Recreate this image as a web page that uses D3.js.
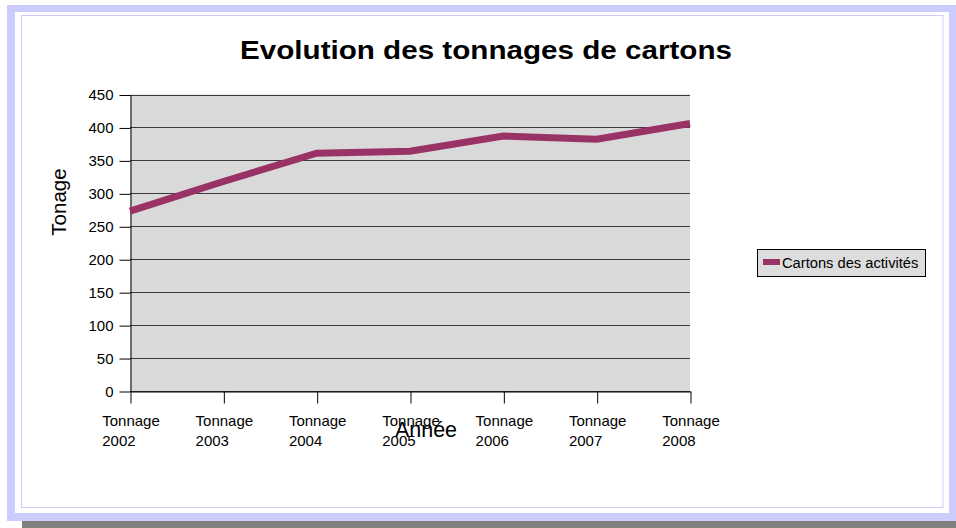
<!DOCTYPE html>
<html>
<head>
<meta charset="utf-8">
<script src="https://cdn.jsdelivr.net/npm/d3@7"></script>
<style>
  body { margin: 0; background: #fff; }
  text { font-family: "Liberation Sans", Arial, sans-serif; fill: #000; }
</style>
</head>
<body>
<div id="chart"></div>
<script>
// Chart data
var categories = ["Tonnage 2002", "Tonnage 2003", "Tonnage 2004", "Tonnage 2005", "Tonnage 2006", "Tonnage 2007", "Tonnage 2008"];
var values = [273, 318, 361, 364, 387, 382, 406];
var yTicks = [0, 50, 100, 150, 200, 250, 300, 350, 400, 450];
var seriesName = "Cartons des activités";

// Set up chart
var svgWidth = 956;
var svgHeight = 528;

var plot = { left: 130, right: 690, top: 94.5, bottom: 391 };

var svg = d3.select("#chart")
  .append("svg")
  .attr("width", svgWidth)
  .attr("height", svgHeight);

// Page frame (shadow, lavender border, thin inner line)
svg.append("rect").attr("x", 22).attr("y", 521).attr("width", 934).attr("height", 7).attr("fill", "#808080");
svg.append("rect").attr("x", 7).attr("y", 5).attr("width", 949).attr("height", 516).attr("fill", "#ccccff");
svg.append("rect").attr("x", 15).attr("y", 12).attr("width", 934).attr("height", 501).attr("fill", "#ffffff");
svg.append("rect").attr("x", 21.5).attr("y", 15.5).attr("width", 921.5).attr("height", 492)
  .attr("fill", "none").attr("stroke", "#ccccff").attr("stroke-width", 1);

// Scales
var x = d3.scalePoint()
  .domain(categories)
  .range([plot.left, plot.right]);

var y = d3.scaleLinear()
  .domain([0, 450])
  .range([plot.bottom, plot.top]);

// Plot background
svg.append("rect")
  .attr("x", plot.left)
  .attr("y", plot.top)
  .attr("width", plot.right - plot.left)
  .attr("height", plot.bottom - plot.top)
  .attr("fill", "#d9d9d9");

// Gridlines
svg.append("g")
  .selectAll("line")
  .data(yTicks)
  .enter()
  .append("line")
  .attr("x1", plot.left)
  .attr("x2", plot.right)
  .attr("y1", d => Math.round(y(d)) + 0.5)
  .attr("y2", d => Math.round(y(d)) + 0.5)
  .attr("stroke", "#3a3a3a")
  .attr("stroke-width", 1);

// Y axis
var yAxis = svg.append("g")
  .attr("transform", `translate(${plot.left + 0.5}, 0.5)`)
  .call(d3.axisLeft(y).tickValues(yTicks).tickSize(11).tickSizeOuter(0).tickPadding(6));
yAxis.select(".domain").attr("stroke", "#000");
yAxis.selectAll(".tick line").attr("stroke", "#000");
yAxis.selectAll(".tick text")
  .style("font-family", "Liberation Sans, Arial, sans-serif")
  .style("font-size", "15px")
  .attr("fill", "#000");

// X axis
var xAxis = svg.append("g")
  .attr("transform", `translate(0.5, ${Math.round(plot.bottom) + 0.5})`)
  .call(d3.axisBottom(x).tickSize(12).tickSizeOuter(0));
xAxis.select(".domain").attr("stroke", "#000");
xAxis.selectAll(".tick line").attr("stroke", "#000");

// Two-line tick labels, left aligned inside a block centred on the tick
xAxis.selectAll(".tick text").each(function(d) {
  var parts = d.split(" ");
  var t = d3.select(this)
    .text(null)
    .attr("y", 0)
    .attr("dy", null)
    .attr("fill", "#000")
    .style("font-family", "Liberation Sans, Arial, sans-serif")
    .style("font-size", "15px")
    .attr("text-anchor", "start");
  var first = t.append("tspan").attr("y", 34).text(parts[0]);
  var w = first.node().getComputedTextLength();
  first.attr("x", -w / 2);
  t.append("tspan").attr("x", -w / 2).attr("y", 54).text(parts[1]);
});

// Line
var line = d3.line()
  .x((d, i) => x(categories[i]))
  .y(d => y(d));

svg.append("path")
  .datum(values)
  .attr("d", line)
  .attr("fill", "none")
  .attr("stroke", "#993366")
  .attr("stroke-width", 7)
  .attr("stroke-linejoin", "miter");

// Title
svg.append("text")
  .attr("x", 486)
  .attr("y", 59)
  .attr("text-anchor", "middle")
  .attr("textLength", 492)
  .attr("lengthAdjust", "spacingAndGlyphs")
  .style("font-size", "25px")
  .style("font-weight", "bold")
  .text("Evolution des tonnages de cartons");

// Axis labels
svg.append("text")
  .attr("transform", "translate(66, 202) rotate(-90)")
  .attr("text-anchor", "middle")
  .style("font-size", "20.5px")
  .text("Tonage");

svg.append("text")
  .attr("x", 426)
  .attr("y", 437)
  .attr("text-anchor", "middle")
  .style("font-size", "21.5px")
  .text("Année");

// Legend
var legend = svg.append("g");
legend.append("rect")
  .attr("x", 757.5).attr("y", 249.5)
  .attr("width", 168).attr("height", 27)
  .attr("fill", "#dddddd").attr("stroke", "#000");
legend.append("rect")
  .attr("x", 763).attr("y", 259)
  .attr("width", 17).attr("height", 6)
  .attr("fill", "#993366");
legend.append("text")
  .attr("x", 782).attr("y", 267.5)
  .style("font-size", "14.7px")
  .text(seriesName);
</script>
</body>
</html>
